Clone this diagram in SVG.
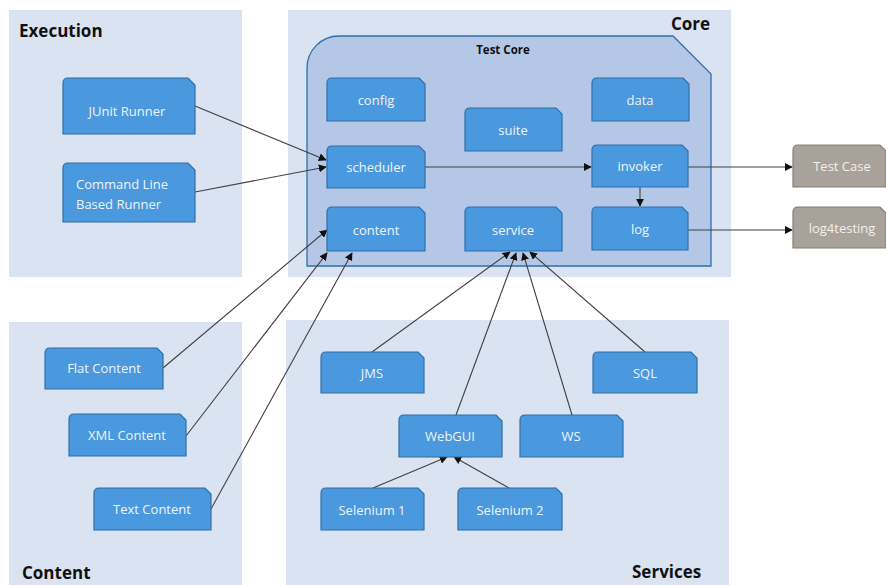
<svg xmlns="http://www.w3.org/2000/svg" width="886" height="585" viewBox="0 0 886 585">
<defs>
<style>
.panel{fill:#dae3f2}
.title{font-family:"Open Sans","Liberation Sans",sans-serif;font-weight:bold;font-size:17px;fill:#111}
.node path{fill:#4a98dd;stroke:#2f6fa8;stroke-width:1.2}
.node text{font-family:"Open Sans","Liberation Sans",sans-serif;font-size:13px;fill:#eef4fb;text-anchor:middle}
.ext path{fill:#a8a29b;stroke:#847d76;stroke-width:1.2}
.ext text{fill:#f2efec}
.conn line{stroke:#404040;stroke-width:1.1;marker-end:url(#arr)}
</style>
<marker id="arr" viewBox="0 0 10 10" refX="9" refY="5" markerWidth="8" markerHeight="8" markerUnits="userSpaceOnUse" orient="auto">
<path d="M0,0 L10,5 L0,10 Z" fill="#111"/>
</marker>
</defs>
<rect width="886" height="585" fill="#ffffff"/>
<!-- panels -->
<rect class="panel" x="9" y="10" width="233" height="267"/>
<rect class="panel" x="288" y="10" width="443" height="267"/>
<rect class="panel" x="9" y="322" width="233" height="263"/>
<rect class="panel" x="286" y="320" width="443" height="265"/>
<text class="title" x="19" y="37">Execution</text>
<text class="title" x="671" y="30">Core</text>
<text class="title" x="22" y="579">Content</text>
<text class="title" x="632" y="578">Services</text>
<!-- Test Core container -->
<g id="testcore">
<path d="M307,266 V68 A32,32 0 0 1 339,36 H673 L711,74 V266 Z" fill="#b4c7e7" stroke="#2f6fa8" stroke-width="1.3"/>
<text x="503" y="54" font-family="'Open Sans','Liberation Sans',sans-serif" font-size="11.5" font-weight="bold" fill="#111" text-anchor="middle">Test Core</text>
</g>
<!-- connectors -->
<g id="connectors" class="conn">
<line x1="195" y1="106" x2="326" y2="160"/>
<line x1="195" y1="192" x2="326" y2="167"/>
<line x1="425" y1="167" x2="591" y2="167"/>
<line x1="640" y1="187" x2="640" y2="206"/>
<line x1="688" y1="167" x2="792" y2="167"/>
<line x1="688" y1="230" x2="792" y2="230"/>
<line x1="163" y1="368" x2="327" y2="230"/>
<line x1="186" y1="436" x2="327" y2="253"/>
<line x1="211" y1="509" x2="352" y2="253"/>
<line x1="372" y1="352" x2="510" y2="252"/>
<line x1="456" y1="415" x2="516" y2="253"/>
<line x1="572" y1="415" x2="523" y2="253"/>
<line x1="645" y1="352" x2="530" y2="252"/>
<line x1="373" y1="488" x2="447" y2="457"/>
<line x1="509" y1="488" x2="454" y2="457"/>
</g>
<!-- nodes -->
<g id="junit" class="node"><path d="M63,134 V83 Q63,78 68,78 H188 L195,85 V134 Z"/><text x="127" y="116">JUnit Runner</text></g>
<g id="cmdline" class="node"><path d="M63,222 V168 Q63,163 68,163 H188 L195,170 V222 Z"/><text x="76" y="189" style="text-anchor:start">Command Line</text><text x="76" y="209" style="text-anchor:start">Based Runner</text></g>
<g id="config" class="node"><path d="M327,121 V83 Q327,78 332,78 H419 L425,84 V121 Z"/><text x="376" y="105">config</text></g>
<g id="suite" class="node"><path d="M465,151 V113 Q465,108 470,108 H556 L562,114 V151 Z"/><text x="513" y="135">suite</text></g>
<g id="data" class="node"><path d="M592,121 V83 Q592,78 597,78 H683 L689,84 V121 Z"/><text x="640" y="105">data</text></g>
<g id="scheduler" class="node"><path d="M327,188 V151 Q327,146 332,146 H419 L425,152 V188 Z"/><text x="376" y="172">scheduler</text></g>
<g id="invoker" class="node"><path d="M592,187 V150 Q592,145 597,145 H682 L688,151 V187 Z"/><text x="640" y="171">invoker</text></g>
<g id="log" class="node"><path d="M592,250 V212 Q592,207 597,207 H682 L688,213 V250 Z"/><text x="640" y="234">log</text></g>
<g id="content" class="node"><path d="M327,251 V212 Q327,207 332,207 H419 L425,213 V251 Z"/><text x="376" y="235">content</text></g>
<g id="service" class="node"><path d="M465,251 V212 Q465,207 470,207 H556 L562,213 V251 Z"/><text x="513" y="235">service</text></g>
<g id="testcase" class="node ext"><path d="M793,187 V150 Q793,145 798,145 H880 L886,151 V187 Z"/><text x="842" y="171">Test Case</text></g>
<g id="log4testing" class="node ext"><path d="M793,248 V212 Q793,207 798,207 H880 L886,213 V248 Z"/><text x="842" y="233">log4testing</text></g>
<g id="flat" class="node"><path d="M45,389 V353 Q45,348 50,348 H157 L163,354 V389 Z"/><text x="104" y="373">Flat Content</text></g>
<g id="xml" class="node"><path d="M69,456 V419 Q69,414 74,414 H180 L186,420 V456 Z"/><text x="127" y="440">XML Content</text></g>
<g id="textc" class="node"><path d="M94,530 V493 Q94,488 99,488 H205 L211,494 V530 Z"/><text x="152" y="514">Text Content</text></g>
<g id="jms" class="node"><path d="M321,393 V357 Q321,352 326,352 H418 L424,358 V393 Z"/><text x="372" y="378">JMS</text></g>
<g id="sql" class="node"><path d="M593,393 V357 Q593,352 598,352 H691 L697,358 V393 Z"/><text x="645" y="378">SQL</text></g>
<g id="webgui" class="node"><path d="M399,457 V420 Q399,415 404,415 H496 L502,421 V457 Z"/><text x="450" y="441">WebGUI</text></g>
<g id="ws" class="node"><path d="M520,457 V420 Q520,415 525,415 H617 L623,421 V457 Z"/><text x="571" y="441">WS</text></g>
<g id="sel1" class="node"><path d="M321,530 V493 Q321,488 326,488 H418 L424,494 V530 Z"/><text x="372" y="515">Selenium 1</text></g>
<g id="sel2" class="node"><path d="M458,530 V493 Q458,488 463,488 H556 L562,494 V530 Z"/><text x="510" y="515">Selenium 2</text></g>
</svg>
